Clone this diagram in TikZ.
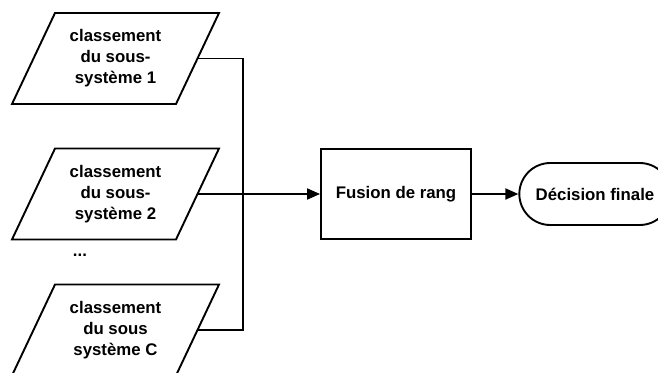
\documentclass[tikz,border=0pt]{standalone}
\usepackage{fontspec}
\setmainfont{Liberation Sans}
\usetikzlibrary{shapes.misc,arrows.meta}
\begin{document}
\begin{tikzpicture}[x=1pt,y=-1pt,
  font=\fontsize{16.8}{21}\selectfont\bfseries,
  line width=1.9pt,
  iotext/.style={align=center, inner sep=0pt},
  procbox/.style={draw, rectangle, minimum width=150pt, minimum height=90pt, align=center},
  termbox/.style={draw, rounded rectangle, minimum width=158pt, minimum height=62pt, align=center},
  conn/.style={-{Triangle[length=13pt,width=11pt]}}]
\useasboundingbox (0,0) rectangle (658,372);
\clip (0,0) rectangle (658,372);
\newcommand\iobox[1]{%
  \draw ([shift={(-60.5,-45.5)}]#1.center) -- ([shift={(103.5,-45.5)}]#1.center)
     -- ([shift={(60.5,45.5)}]#1.center) -- ([shift={(-103.5,45.5)}]#1.center) -- cycle;
  \coordinate (#1e) at ([xshift=82pt]#1.center);}
\node[iotext] (p1) at (115.5,58.5) {classement\\du sous-\\système 1};
\node[iotext] (p2) at (115.5,194) {classement\\du sous-\\système 2};
\node[iotext] (p3) at (115.5,330) {classement\\du sous\\système C};
\iobox{p1}\iobox{p2}\iobox{p3}
\node (dots) at (80,255) {...};
\node[procbox] (fus) at (396,194) {Fusion de rang};
\node[termbox] (dec) at (595,194) {Décision finale};
\coordinate (j) at (243,194);
\draw (p1e) -| (j);
\draw (p3e) -| (j);
\draw[conn] (p2e) -- (fus.west);
\draw[conn] (fus.east) -- (dec.west);
\end{tikzpicture}
\end{document}
